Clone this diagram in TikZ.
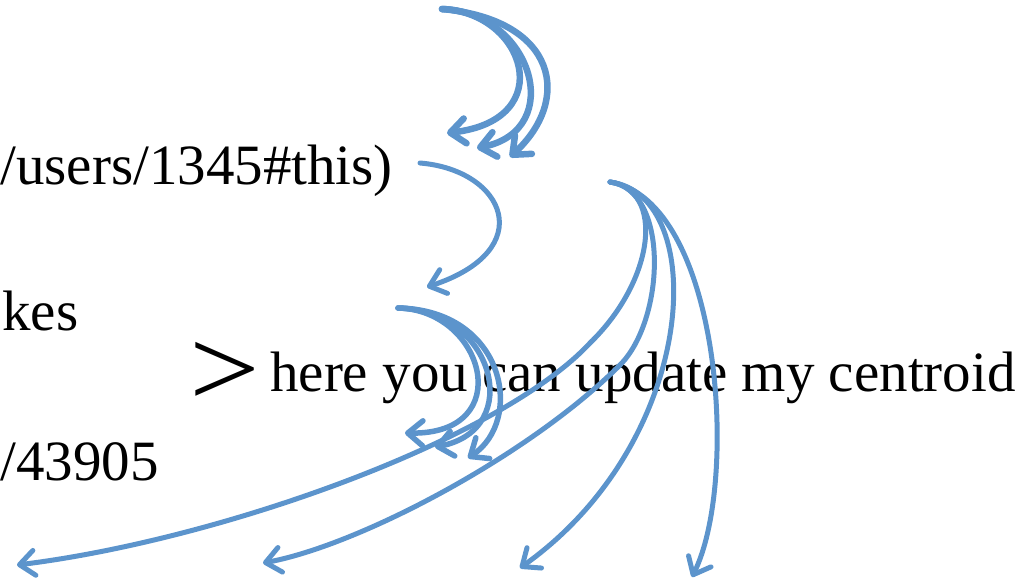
\documentclass[tikz,border=0pt]{standalone}
\usepackage{fontspec}
\setmainfont{Liberation Serif}
\usetikzlibrary{arrows.meta}
\definecolor{arrowblue}{RGB}{92,148,204}
\begin{document}
\begin{tikzpicture}[x=1pt,y=-1pt,
  curvearrow/.style={draw=arrowblue, line cap=round, -{Straight Barb[length=15pt,width=25pt,round]}},
  txt/.style={inner sep=0pt, font=\fontsize{57}{60}\selectfont, anchor=base west}]
\useasboundingbox (0,0) rectangle (1029,583);
% texts
\node[txt] (t1) at (0,185) {/users/1345\#this)};
\node[txt] (t2) at (2,330) {kes};
\node[txt] (t3) at (0,480) {/43905};
\node[txt, font=\fontsize{112}{116}\selectfont, xscale=1.12] (gt) at (189,406) {>};
\node[txt] (t4) at (270,391) {here you can update my centroid};
% coordinates
\coordinate (g1s) at (442,9);
\coordinate (g1a) at (447,133);
\coordinate (g1b) at (477,148);
\coordinate (g1c) at (510,157);
\coordinate (g2s) at (420,163);
\coordinate (g2a) at (427,287);
\coordinate (g3s) at (398,308);
\coordinate (g3a) at (405,433);
\coordinate (g3b) at (435,447);
\coordinate (g3c) at (468,458);
\coordinate (g4s) at (610,182);
\coordinate (g4a) at (17,565);
\coordinate (g4b) at (263,563);
\coordinate (g4c) at (520,568);
\coordinate (g4d) at (692,577);
% group 1
\draw[curvearrow, line width=6.5pt] (g1s) .. controls (525,12) and (560,120) .. (g1a);
\draw[curvearrow, line width=6.5pt] (g1s) .. controls (532,12) and (567,130) .. (g1b);
\draw[curvearrow, line width=6.5pt] (g1s) .. controls (558,20) and (572,100) .. (g1c);
% group 2
\draw[curvearrow, line width=5pt] (g2s) .. controls (505,170) and (540,250) .. (g2a);
% group 3
\draw[curvearrow, line width=5.5pt] (g3s) .. controls (485,310) and (518,435) .. (g3a);
\draw[curvearrow, line width=5.5pt] (g3s) .. controls (495,310) and (525,430) .. (g3b);
\draw[curvearrow, line width=5.5pt] (g3s) .. controls (505,310) and (525,420) .. (g3c);
% group 4
\draw[curvearrow, line width=5pt] (g4s) .. controls (665,190) and (655,280) .. (590,343)
   .. controls (500,440) and (220,540) .. (g4a);
\draw[curvearrow, line width=5pt] (g4s) .. controls (670,190) and (665,320) .. (620,365)
   .. controls (530,455) and (360,545) .. (g4b);
\draw[curvearrow, line width=5pt] (g4s) .. controls (710,195) and (700,440) .. (g4c);
\draw[curvearrow, line width=5pt] (g4s) .. controls (720,200) and (740,480) .. (g4d);
\end{tikzpicture}
\end{document}
